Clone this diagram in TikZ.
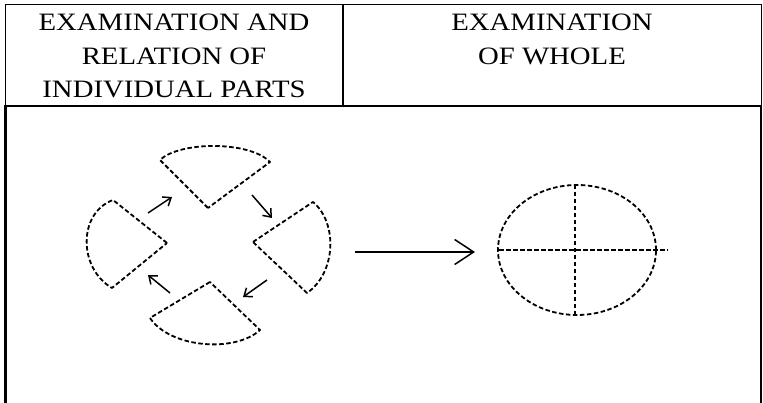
\documentclass[tikz,border=0pt]{standalone}
\usepackage{fontspec}
\newfontfamily\hdrfont[FakeStretch=1.15]{Liberation Serif}
\usetikzlibrary{arrows.meta}
\begin{document}
\begin{tikzpicture}[x=1pt,y=1pt,
  hdr/.style={anchor=base,inner sep=0pt,font=\hdrfont\fontsize{25}{33}\selectfont},
  thinrule/.style={line width=1pt},
  thickrule/.style={line width=2.4pt},
  part/.style={line width=1.8pt,dash pattern=on 4.5pt off 2.5pt,line join=round},
  flow/.style={line width=1.5pt,-{Straight Barb[length=7pt,width=11pt,line width=1.5pt]}},
  bigflow/.style={line width=1.1pt,-{Straight Barb[length=19pt,width=25pt,line width=1.5pt]}}]
\useasboundingbox (0,0) rectangle (763,403);
% table
\draw[thinrule] (5.5,297) -- (5.5,398) -- (761.5,398) -- (761.5,297);
\draw[thickrule] (5.5,-5) -- (5.5,297) -- (761,297) -- (761,-5);
\draw[thickrule] (343,297) -- (343,398);
% header texts
\node[hdr] (l1) at (174,372) {EXAMINATION AND};
\node[hdr] (l2) at (174,338.5) {RELATION OF};
\node[hdr] (l3) at (174,305) {INDIVIDUAL PARTS};
\node[hdr] (r1) at (552,372) {EXAMINATION};
\node[hdr] (r2) at (552,338.5) {OF WHOLE};
% parts
\draw[part] (208,195) -- (160,243) .. controls (180,262) and (250,262) .. (270,241) -- cycle;
\draw[part] (253,161) -- (313,201) .. controls (338,180) and (336,130) .. (307,110) -- cycle;
\draw[part] (210,121) -- (150,85) .. controls (170,55) and (235,50) .. (260,73) -- cycle;
\draw[part] (167,160) -- (113,203) .. controls (78,190) and (78,135) .. (112,115) -- cycle;
% small arrows
\coordinate (a1s) at (148,190); \coordinate (a1e) at (172,206);
\coordinate (a2s) at (252,208); \coordinate (a2e) at (272,185);
\coordinate (a3s) at (267,123); \coordinate (a3e) at (243,106);
\coordinate (a4s) at (170,110); \coordinate (a4e) at (148,128);
\draw[flow] (a1s) -- (a1e);
\draw[flow] (a2s) -- (a2e);
\draw[flow] (a3s) -- (a3e);
\draw[flow] (a4s) -- (a4e);
% big arrow
\coordinate (bs) at (355,151); \coordinate (be) at (475,151);
\draw[bigflow] (bs) -- (be);
% whole
\draw[part] (577,153) ellipse [x radius=79, y radius=65];
\draw[part] (575,218) -- (575,88);
\draw[part] (499,153) -- (668,153);
\end{tikzpicture}
\end{document}
